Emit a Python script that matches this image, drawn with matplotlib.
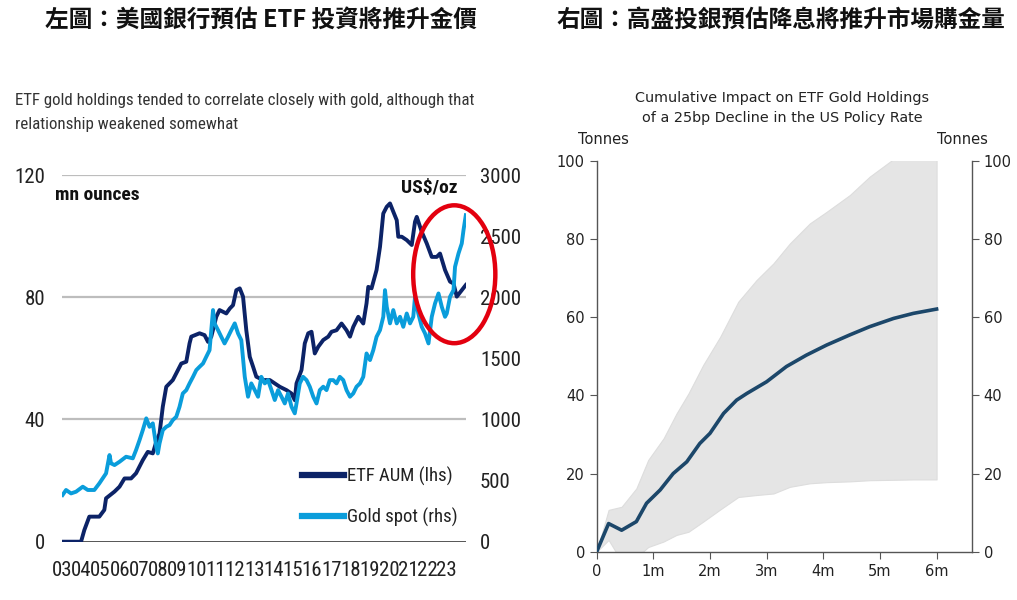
import matplotlib
matplotlib.use("Agg")
import matplotlib.pyplot as plt
from matplotlib import font_manager
from matplotlib.patches import Ellipse
from matplotlib.lines import Line2D

# ---------------- data: left chart (BofA) ----------------
etf_year = [2003.03, 2003.99, 2004.16, 2004.42, 2004.94, 2005.20, 2005.29, 2005.73, 2005.99,
            2006.25, 2006.59, 2006.85, 2007.20, 2007.46, 2007.72, 2007.90, 2008.07, 2008.24,
            2008.42, 2008.76, 2008.94, 2009.20, 2009.46, 2009.63, 2009.72, 2010.15, 2010.41,
            2010.59, 2010.76, 2011.02, 2011.19, 2011.54, 2011.72, 2011.89, 2012.06, 2012.24,
            2012.41, 2012.58, 2012.76, 2012.93, 2013.10, 2013.45, 2013.80, 2014.06, 2014.32,
            2014.67, 2014.93, 2015.10, 2015.19, 2015.45, 2015.62, 2015.80, 2015.97, 2016.14,
            2016.32, 2016.58, 2016.84, 2017.01, 2017.27, 2017.53, 2017.79, 2017.97, 2018.14,
            2018.40, 2018.66, 2018.83, 2018.92, 2019.09, 2019.35, 2019.53, 2019.70, 2019.88,
            2020.05, 2020.22, 2020.40, 2020.48, 2020.66, 2020.92, 2021.18, 2021.35, 2021.44,
            2021.70, 2021.96, 2022.22, 2022.48, 2022.65, 2022.91, 2023.17, 2023.35, 2023.52,
            2023.78, 2023.99]
etf_aum = [0, 0, 3.8, 8.2, 8.2, 10.4, 14.2, 16.4, 18.0,
           20.7, 20.7, 22.4, 26.7, 29.4, 28.9, 32.7, 35.4, 44.2,
           50.7, 52.9, 55.1, 58.3, 58.9, 64.9, 67.1, 68.2, 67.6,
           65.4, 67.1, 73.6, 75.8, 74.7, 76.3, 77.4, 82.3, 82.9,
           80.2, 69.2, 60.5, 57.3, 54.0, 52.9, 52.9, 51.8, 50.7,
           49.6, 48.5, 46.3, 51.8, 56.2, 64.9, 68.2, 68.7, 61.6,
           63.8, 66.0, 67.1, 68.7, 69.2, 71.4, 69.2, 67.1, 70.3,
           73.6, 71.4, 78.0, 83.4, 82.9, 88.9, 96.5, 107.4, 109.6,
           110.7, 108.0, 105.2, 99.8, 99.8, 98.7, 97.1, 104.7, 106.3,
           101.4, 97.6, 93.2, 93.2, 94.3, 88.9, 85.1, 84.5, 80.2,
           82.3, 84.0]

gold_year = [2003.03, 2003.21, 2003.47, 2003.73, 2004.08, 2004.34, 2004.68, 2004.94, 2005.29,
             2005.47, 2005.55, 2005.73, 2005.99, 2006.33, 2006.68, 2006.85, 2007.03, 2007.20,
             2007.38, 2007.55, 2007.72, 2007.90, 2007.98, 2008.07, 2008.24, 2008.42, 2008.59,
             2008.76, 2008.94, 2009.11, 2009.28, 2009.46, 2009.63, 2009.81, 2009.98, 2010.15,
             2010.33, 2010.50, 2010.67, 2010.85, 2010.93, 2011.11, 2011.28, 2011.45, 2011.63,
             2011.80, 2011.98, 2012.15, 2012.32, 2012.50, 2012.67, 2012.84, 2013.02, 2013.19,
             2013.36, 2013.54, 2013.71, 2013.89, 2014.06, 2014.23, 2014.41, 2014.58, 2014.75,
             2014.93, 2015.10, 2015.19, 2015.36, 2015.53, 2015.71, 2015.88, 2016.06, 2016.23,
             2016.40, 2016.58, 2016.75, 2016.92, 2017.10, 2017.27, 2017.44, 2017.62, 2017.79,
             2017.97, 2018.14, 2018.31, 2018.49, 2018.66, 2018.83, 2019.01, 2019.18, 2019.35,
             2019.53, 2019.70, 2019.79, 2019.88, 2020.05, 2020.22, 2020.40, 2020.57, 2020.74,
             2020.92, 2021.09, 2021.26, 2021.35, 2021.52, 2021.70, 2021.87, 2022.05, 2022.22,
             2022.39, 2022.57, 2022.74, 2022.91, 2023.00, 2023.17, 2023.35, 2023.43, 2023.61,
             2023.78, 2023.87, 2023.99]
gold_spot = [382, 423, 395, 409, 450, 423, 423, 477, 559,
             709, 641, 627, 654, 695, 682, 750, 831, 913,
             1009, 940, 968, 777, 722, 804, 913, 940, 954,
             995, 1022, 1104, 1213, 1240, 1295, 1349, 1404, 1431,
             1458, 1513, 1567, 1895, 1786, 1731, 1676, 1622, 1676,
             1731, 1786, 1704, 1649, 1349, 1186, 1295, 1240, 1186,
             1349, 1295, 1322, 1240, 1159, 1240, 1186, 1131, 1213,
             1104, 1050, 1131, 1295, 1349, 1322, 1268, 1186, 1131,
             1240, 1268, 1240, 1322, 1322, 1295, 1349, 1322, 1240,
             1186, 1213, 1268, 1295, 1349, 1540, 1486, 1567, 1676,
             1731, 1840, 2058, 1922, 1786, 1895, 1786, 1840, 1758,
             1867, 1786, 1840, 2004, 1867, 1758, 1704, 1622, 1840,
             1949, 2031, 1922, 1840, 1867, 2004, 2058, 2249, 2358,
             2440, 2549, 2671]

year_ticks = list(range(2003, 2024))
year_labels = ["%02d" % (y % 100) for y in year_ticks]
lhs_ticks = [0, 40, 80, 120]
rhs_ticks = [0, 500, 1000, 1500, 2000, 2500, 3000]

# ---------------- data: right chart (Goldman Sachs) ----------------
impact_months = [0, 0.21, 0.44, 0.70, 0.88, 1.12, 1.35, 1.59, 1.82, 2.00, 2.24, 2.47, 2.65,
                 3.00, 3.35, 3.70, 4.06, 4.47, 4.82, 5.24, 5.59, 6.00]
impact_mean = [0, 7.2, 5.5, 7.7, 12.4, 15.8, 20.0, 23.0, 27.7, 30.3, 35.4, 38.8, 40.5,
               43.5, 47.4, 50.3, 52.9, 55.5, 57.6, 59.7, 61.0, 62.1]
band_months = [0, 0.21, 0.44, 0.70, 0.91, 1.18, 1.41, 1.62, 1.88, 2.18, 2.50, 2.82, 3.12,
               3.41, 3.76, 4.06, 4.47, 4.82, 5.24, 5.60, 6.00]
band_upper = [0, 10.7, 11.5, 16.2, 23.5, 29.0, 35.4, 40.5, 47.8, 55.0, 64.0, 69.5, 73.8,
              78.9, 84.0, 87.0, 91.3, 96.0, 100.5, 103.0, 106.0]
band_lower = [0, 3.0, -2.5, -1.5, 1.2, 2.6, 4.3, 5.1, 7.7, 10.8, 14.0, 14.5, 14.9,
              16.6, 17.5, 17.8, 18.0, 18.3, 18.4, 18.5, 18.5]
month_ticks = [0, 1, 2, 3, 4, 5, 6]
month_labels = ["0", "1m", "2m", "3m", "4m", "5m", "6m"]
tonne_ticks = [0, 20, 40, 60, 80, 100]

# ---------------- fonts ----------------
available = {f.name for f in font_manager.fontManager.ttflist}
narrow = None
for cand in ["Roboto Condensed", "Liberation Sans Narrow", "Open Sans Condensed", "Archivo Narrow"]:
    if cand in available:
        narrow = cand
        break
NARROW = dict(family=narrow) if narrow else dict(family="DejaVu Sans", stretch="condensed")
CJK = ["Noto Sans CJK TC", "DejaVu Sans"]

W, H = 1017, 600
fig = plt.figure(figsize=(W / 100, H / 100), dpi=100)


def fx(px):
    return px / W


def fy(py):
    return 1 - py / H


# ---------------- titles ----------------
fig.text(fx(261), fy(20), "左圖：美國銀行預估 ETF 投資將推升金價", family=CJK,
         fontsize=17, fontweight="bold", ha="center", va="center", color="#111111")
fig.text(fx(781), fy(20), "右圖：高盛投銀預估降息將推升市場購金量", family=CJK,
         fontsize=17, fontweight="bold", ha="center", va="center", color="#111111")

# ---------------- left chart ----------------
navy = "#0c2367"
sky = "#0a9ddb"
ax1 = fig.add_axes([fx(62), fy(541.7), fx(466) - fx(62), fy(175) - fy(541.7)])
ax1.set_xlim(2003, 2024)
ax1.set_ylim(0, 120)
for s in ax1.spines.values():
    s.set_visible(False)
for v in lhs_ticks[1:]:
    ax1.axhline(v, color="#bdbdbd", lw=1.6, zorder=0)
ax1.axhline(0, color="#222222", lw=1.8, zorder=0)
ax1.plot(etf_year, etf_aum, color=navy, lw=2.8, solid_joinstyle="round", zorder=3)
ax1.set_yticks(lhs_ticks)
ax1.set_yticklabels([str(v) for v in lhs_ticks], fontsize=15, color="#222222", **NARROW)
ax1.tick_params(axis="y", length=0, pad=12)
ax1.set_xticks(year_ticks)
ax1.set_xticklabels(year_labels, fontsize=15, color="#222222", **NARROW)
ax1.tick_params(axis="x", length=0, pad=14)
ax1.patch.set_alpha(0)

ax2 = ax1.twinx()
ax2.set_ylim(0, 3000)
for s in ax2.spines.values():
    s.set_visible(False)
ax2.plot(gold_year, gold_spot, color=sky, lw=2.8, solid_joinstyle="round", zorder=3)
ax2.set_yticks(rhs_ticks)
ax2.set_yticklabels([str(v) for v in rhs_ticks], fontsize=15, color="#222222", **NARROW)
ax2.tick_params(axis="y", length=0, pad=10)

ax2.add_patch(Ellipse((2023.39, 2188), 4.27, 1128, fill=False, ec="#e3000f", lw=3.2,
                      clip_on=False, zorder=6))

fig.text(fx(55), fy(195), "mn ounces", fontsize=14, fontweight="bold", ha="left", va="center",
         color="#111111", **NARROW)
fig.text(fx(458), fy(188), "US$/oz", fontsize=14, fontweight="bold", ha="right", va="center",
         color="#111111", **NARROW)

handles = [Line2D([], [], color=navy, lw=4.5), Line2D([], [], color=sky, lw=4.5)]
leg = fig.legend(handles, ["ETF AUM (lhs)", "Gold spot (rhs)"], loc="center left",
                 bbox_to_anchor=(fx(302), fy(497)), frameon=False, handlelength=2.25,
                 handletextpad=0.15, labelspacing=1.15, borderpad=0, borderaxespad=0,
                 prop=dict(size=13.5, **NARROW))
for t in leg.get_texts():
    t.set_color("#222222")

fig.text(fx(15), fy(100), "ETF gold holdings tended to correlate closely with gold, although that",
         fontsize=12.2, ha="left", va="center", color="#333333", **NARROW)
fig.text(fx(15), fy(125), "relationship weakened somewhat",
         fontsize=12.2, ha="left", va="center", color="#333333", **NARROW)

# ---------------- right chart ----------------
line_col = "#1c476a"
spine_col = "#555555"
ax3 = fig.add_axes([fx(596.7), fy(551.7), fx(971.7) - fx(596.7), fy(161) - fy(551.7)])
ax3.set_xlim(0, 6.62)
ax3.set_ylim(0, 100)
ax3.fill_between(band_months, band_lower, band_upper, color="#e5e5e5", lw=0.8,
                 edgecolor="#dddddd", zorder=1)
ax3.plot(impact_months, impact_mean, color=line_col, lw=2.6, zorder=3)
ax3.spines["top"].set_visible(False)
for k in ["left", "right", "bottom"]:
    ax3.spines[k].set_color(spine_col)
    ax3.spines[k].set_linewidth(1.0)
ax3.set_xticks(month_ticks)
ax3.set_xticklabels(month_labels)
ax3.set_yticks(tonne_ticks)
ax3.tick_params(axis="both", labelsize=10.5, colors="#222222", length=5, color=spine_col,
                labelright=True, right=True)
fig.text(fx(782), fy(98), "Cumulative Impact on ETF Gold Holdings", fontsize=10.4,
         ha="center", va="center", color="#222222")
fig.text(fx(782), fy(118), "of a 25bp Decline in the US Policy Rate", fontsize=10.4,
         ha="center", va="center", color="#222222")
fig.text(fx(603), fy(139), "Tonnes", fontsize=10.5, ha="center", va="center", color="#222222")
fig.text(fx(962), fy(139), "Tonnes", fontsize=10.5, ha="center", va="center", color="#222222")

fig.savefig("out.png", dpi=100)
